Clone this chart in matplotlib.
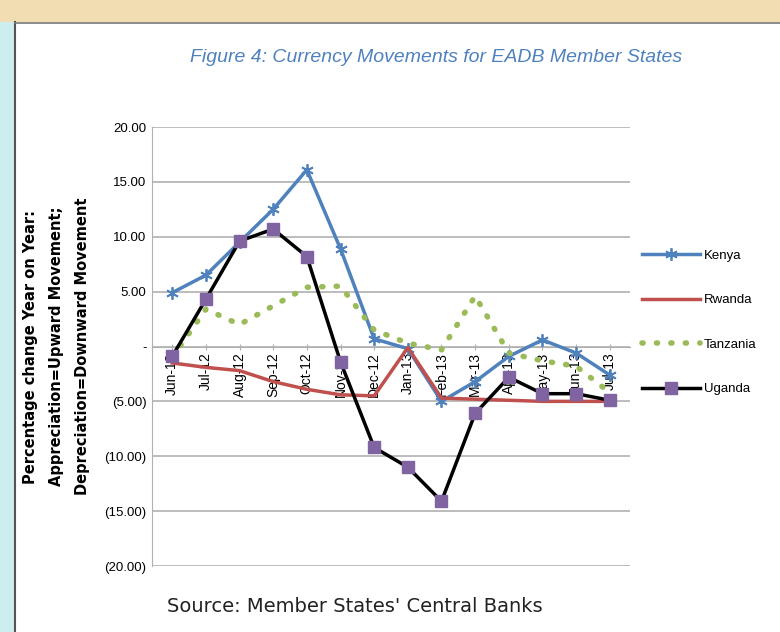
import matplotlib
matplotlib.use("Agg")
import matplotlib.pyplot as plt
from matplotlib.ticker import FuncFormatter
from matplotlib.patches import Rectangle
from matplotlib.lines import Line2D

categories = ["Jun-12", "Jul-12", "Aug-12", "Sep-12", "Oct-12", "Nov-12", "Dec-12",
              "Jan-13", "Feb-13", "Mar-13", "Apr-13", "May-13", "Jun-13", "Jul-13"]
kenya = [4.9, 6.5, 9.5, 12.5, 16.1, 8.9, 0.7, -0.2, -5.0, -3.2, -0.9, 0.6, -0.6, -2.6]
rwanda = [-1.5, -1.9, -2.2, -3.2, -3.9, -4.4, -4.5, -0.1, -4.7, -4.8, -4.9, -5.0, -5.0, -5.0]
tanzania = [-1.0, 3.4, 2.0, 3.7, 5.4, 5.5, 1.5, 0.3, -0.3, 4.6, -0.6, -1.3, -1.8, -4.2]
uganda = [-0.9, 4.3, 9.6, 10.7, 8.2, -1.4, -9.2, -11.0, -14.1, -6.1, -2.8, -4.3, -4.3, -4.9]
yticks = [20, 15, 10, 5, 0, -5, -10, -15, -20]

NARROW = ["Liberation Sans", "DejaVu Sans"]

fig = plt.figure(figsize=(7.8, 6.32), dpi=100)
fig.patch.set_facecolor("white")
# decorative frame
fig.add_artist(Rectangle((0, 1 - 22 / 632), 1, 22 / 632, transform=fig.transFigure,
                         facecolor="#f2ddb2", edgecolor="none"))
fig.add_artist(Rectangle((0, 0), 14 / 780, 1 - 22 / 632, transform=fig.transFigure,
                         facecolor="#cdeeee", edgecolor="none"))
fig.add_artist(Line2D([15 / 780, 15 / 780], [0, 1 - 22 / 632], transform=fig.transFigure,
                      color="#555555", lw=1.5))
fig.add_artist(Line2D([15 / 780, 1], [1 - 23 / 632, 1 - 23 / 632], transform=fig.transFigure,
                      color="#777777", lw=1.2))

ax = fig.add_axes([152 / 780, 66 / 632, 478 / 780, 439 / 632])
x = list(range(len(categories)))

ax.plot(x, kenya, color="#4f81bd", lw=2.5, marker=(6, 2, 0), markersize=9,
        markeredgewidth=1.3, markeredgecolor="#4f81bd", label="Kenya", zorder=3)
ax.plot(x, rwanda, color="#c0504d", lw=2.5, label="Rwanda", zorder=3)
ax.plot(x, tanzania, color="#9bbb59", lw=4, linestyle=(0, (0.2, 2.4)),
        dash_capstyle="round", label="Tanzania", zorder=3)
ax.plot(x, uganda, color="black", lw=2.5, marker="s", markersize=8,
        markerfacecolor="#8064a2", markeredgecolor="#8064a2", label="Uganda", zorder=4)

ax.set_ylim(-20, 20)
ax.set_xlim(-0.6, len(categories) - 0.4)
ax.set_yticks(yticks)


def fmt(v, pos):
    if abs(v) < 1e-9:
        return "-"
    if v < 0:
        return "({:.2f})".format(-v)
    return "{:.2f}".format(v)


ax.yaxis.set_major_formatter(FuncFormatter(fmt))
ax.grid(axis="y", color="#b0b0b0", lw=1.2)
ax.set_axisbelow(True)
for s in ["top", "right"]:
    ax.spines[s].set_visible(False)
ax.spines["left"].set_color("#b0b0b0")
ax.spines["bottom"].set_position(("data", 0))
ax.spines["bottom"].set_color("#b0b0b0")
ax.set_xticks(x)
ax.set_xticklabels(categories, rotation=90, fontsize=10, family=NARROW)
ax.tick_params(axis="x", length=4, color="#b0b0b0", direction="inout", pad=2)
ax.tick_params(axis="y", length=0, labelsize=9.5, pad=4)
for lab in ax.get_yticklabels():
    lab.set_family(NARROW)

ax.set_ylabel("Percentage change Year on Year:\nAppreciation=Upward Movement;\nDepreciation=Downward Movement",
              fontsize=10.5, fontweight="bold", labelpad=10, linespacing=1.95)

leg = ax.legend(loc="center left", bbox_to_anchor=(1.0, 0.555), frameon=False,
                handlelength=4.4, labelspacing=2.45, handletextpad=0.3,
                prop={"family": NARROW, "size": 9.5})

fig.text(436 / 780, 1 - 58 / 632, "Figure 4: Currency Movements for EADB Member States",
         ha="center", va="center", fontsize=14, style="italic", color="#4f81bd",
         family=NARROW)
fig.text(167 / 780, 1 - 607 / 632, "Source: Member States' Central Banks",
         ha="left", va="center", fontsize=14, color="#222222")

fig.savefig("out.png", dpi=100)
